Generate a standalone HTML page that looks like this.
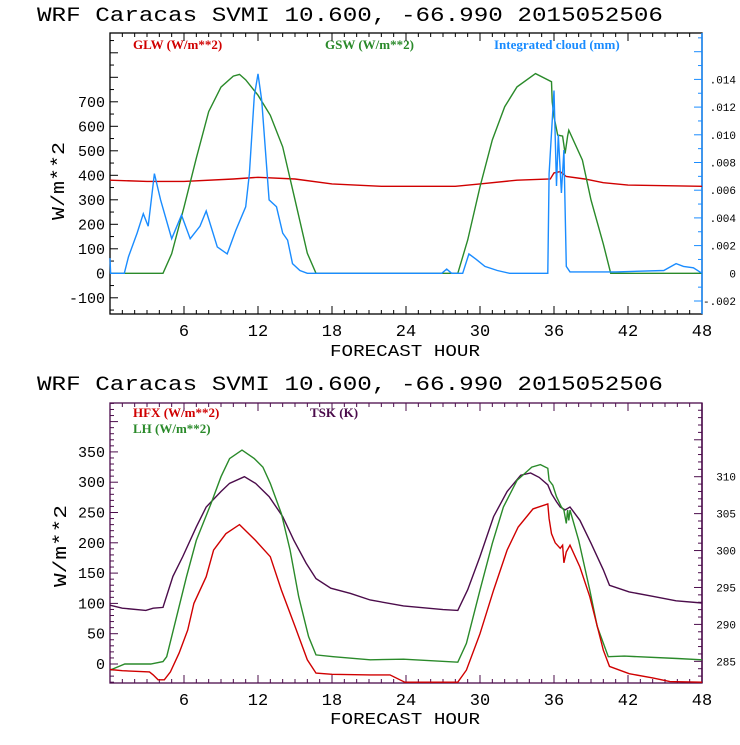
<!DOCTYPE html>
<html><head><meta charset="utf-8"><style>
body{margin:0;background:#fff;width:740px;height:740px;overflow:hidden}
svg text{font-family:"Liberation Mono",monospace}
.lg{font-family:"Liberation Serif",serif;font-weight:bold;font-size:13px}
</style></head><body>
<svg id="c" width="740" height="740" xmlns="http://www.w3.org/2000/svg">
<text x="37" y="21" font-size="20" textLength="626" lengthAdjust="spacingAndGlyphs">WRF  Caracas SVMI  10.600, -66.990  2015052506</text>
<text x="37" y="390" font-size="20" textLength="626" lengthAdjust="spacingAndGlyphs">WRF  Caracas SVMI  10.600, -66.990  2015052506</text>
<text x="330" y="356" font-size="17" textLength="150" lengthAdjust="spacingAndGlyphs">FORECAST HOUR</text>
<text x="330" y="724" font-size="17" textLength="150" lengthAdjust="spacingAndGlyphs">FORECAST HOUR</text>
<text transform="translate(64,220) rotate(-90)" font-size="18" textLength="78" lengthAdjust="spacingAndGlyphs">W/m**2</text>
<text transform="translate(66,587) rotate(-90)" font-size="18" textLength="82" lengthAdjust="spacingAndGlyphs">W/m**2</text>
<text class="lg" x="133" y="49" fill="#d00000">GLW (W/m**2)</text>
<text class="lg" x="325" y="49" fill="#2a8a2a">GSW (W/m**2)</text>
<text class="lg" x="494" y="49" fill="#1a8cff">Integrated cloud (mm)</text>
<text class="lg" x="133" y="417" fill="#d00000">HFX (W/m**2)</text>
<text class="lg" x="133" y="433" fill="#2a8a2a">LH  (W/m**2)</text>
<text class="lg" x="310" y="417" fill="#4b0c4b">TSK (K)</text>
</svg>
<script>
// ---- data ----
const gswHours=[0,4.3,5,6,7,8,9,10,10.5,11,12,13,14,15,16,16.7,28.2,29,30,31,32,33,34.5,35.8,35.85,36.0,36.3,36.7,36.9,37.1,37.2,38.3,39,40,40.6,48];
const gswVals=[0,0,80,270,470,660,760,805,812,790,727,645,516,300,82,0,0,136,353,544,680,761,815,782,700,639,564,560,489,560,584,462,299,120,0,0];
const glwHours=[0,3,6,10,12,15,18,22,24,28,30,33,35.7,36,36.5,37,38.5,40,42,48];
const glwVals=[380,375,375,385,392,385,365,355,355,355,365,380,385,410,415,395,385,370,360,355];
const cloudHours=[0,0.05,1.16,1.5,2.2,2.7,3.1,3.6,4.1,5.0,5.8,6.5,7.3,7.8,8.7,9.5,10.2,11,11.3,11.7,12,12.3,12.9,13.5,14,14.4,14.8,15.4,16,26.9,27.3,27.7,28.6,29.1,29.7,30.4,31.4,32.4,35.5,35.6,36.0,36.2,36.35,36.6,36.8,37.0,37.3,41,44.9,45.9,46.5,47.3,48];
const cloudVals=[0.0011,0,0,0.0012,0.0029,0.0043,0.0034,0.0072,0.0053,0.0025,0.0042,0.0025,0.0034,0.0045,0.0019,0.0014,0.0031,0.0048,0.0072,0.0128,0.0144,0.0125,0.0053,0.0048,0.0029,0.0024,0.0007,0.0002,0,0,0.0003,0,0,0.0014,0.001,0.0005,0.0002,0,0,0.0072,0.0132,0.0063,0.010,0.0058,0.0089,0.0005,0.0001,0.0001,0.0002,0.0007,0.0005,0.0004,0];
const hfxHours=[0,1,3.2,3.5,3.9,4.4,4.9,5.6,6.3,6.8,7.8,8.4,9.4,10.5,11.8,13.0,13.9,15.0,16,16.7,18,21.1,22.7,23.9,28.2,28.9,30,31.1,32.2,33.1,34.3,35.5,35.6,35.8,36.1,36.5,36.7,36.8,37.0,37.3,38.1,38.9,40,40.5,42.1,44,45.4,48];
const hfxVals=[-9,-11,-13,-18,-26,-26,-13,18,56,100,144,188,215,230,204,177,122,62,7,-15,-17,-18,-18,-30,-30,-10,50,122,188,226,256,264,240,215,200,191,196,167,185,196,160,111,23,-4,-16,-23,-29,-30];
const lhHours=[0,1.2,3.3,4.3,4.6,5.4,6.2,7.0,8.2,9.0,9.7,10.7,11.7,12.4,13.0,13.9,14.6,15.3,16.1,16.7,18.1,21.1,23.8,28.2,28.9,30,31,31.9,33,34.2,34.9,35.5,35.6,35.9,36.2,36.6,36.8,37.0,37.1,37.2,37.3,38,38.9,39.5,40.4,41.7,46,48];
const lhVals=[-10,0,0,4,12,78,144,204,265,309,339,353,339,325,298,248,188,111,45,15,12,7,8,3,34,122,199,259,303,325,329,323,303,295,276,259,254,232,254,237,254,204,122,62,12,13,9,7];
const tskHours=[0,1,2.9,3.5,4.3,5.1,5.9,7.0,7.8,9.0,9.7,10.9,11.8,12.9,14,14.9,15.9,16.7,17.9,19.5,21.1,23.8,27,28.2,29,30,31.1,32.2,33.3,34.1,34.8,35.5,35.8,36.2,36.5,36.9,37.3,38.1,39,40,40.5,42.1,44,45.9,48];
const tskVals=[292.6,292.2,291.9,292.2,292.3,296.5,299.2,303.2,305.9,308.0,309.1,310,309.1,307.3,304.6,301.4,298.3,296.2,294.9,294.2,293.3,292.5,292.0,291.9,294.7,299.2,304.6,308.0,310.2,310.5,309.9,308.9,307.7,306.6,305.9,305.5,305.9,304.1,301.0,297.4,295.3,294.4,293.8,293.2,292.9];
const topLeftTicks=[-100,0,100,200,300,400,500,600,700];
const topRightTicks=[-0.002,0,0.002,0.004,0.006,0.008,0.010,0.012,0.014];
const topRightLabels=["-.002","0",".002",".004",".006",".008",".010",".012",".014"];
const botLeftTicks=[0,50,100,150,200,250,300,350];
const botRightTicks=[285,290,295,300,305,310];
const xTicks=[6,12,18,24,30,36,42,48];

const NS="http://www.w3.org/2000/svg";
const svg=document.getElementById('c');
function el(t,a,p){const e=document.createElementNS(NS,t);for(const k in a)e.setAttribute(k,a[k]);(p||svg).appendChild(e);return e;}
const X0=110,X1=702;
const xs=h=>X0+(X1-X0)*h/48;
function line(hours,vals,sy,color,name){
  const pts=hours.map((h,i)=>xs(h).toFixed(1)+','+sy(vals[i]).toFixed(1)).join(' ');
  const p=el('polyline',{points:pts,fill:'none',stroke:color,'stroke-width':1.4});
  
  
}
function panel(o){
  const g=el('g',{});
  
  
  // frame
  el('rect',{x:X0,y:o.top,width:X1-X0,height:o.bot-o.top,fill:'none',stroke:o.frame,'stroke-width':1.3},g);
  el('line',{x1:X1,y1:o.top,x2:X1,y2:o.bot,stroke:o.rcol,'stroke-width':1.5},g);
  // x ticks
  for(let h=1;h<48;h++){const x=xs(h),L=h%6==0?8:4;
    el('line',{x1:x,y1:o.bot,x2:x,y2:o.bot-L,stroke:o.frame},g);
    el('line',{x1:x,y1:o.top,x2:x,y2:o.top+L,stroke:o.frame},g);}
  xTicks.forEach(h=>{const t=el('text',{x:xs(h),y:o.bot+22,'font-size':17,'text-anchor':'middle'},g);t.textContent=h;
    
    });
  // left ticks
  for(let v=o.lmin;v<=o.lmax;v+=o.lminor){const y=o.sy(v);if(y<o.top||y>o.bot)continue;
    const L=(Math.round(v/o.lminor)%o.lmajorEvery==0)?8:4;
    el('line',{x1:X0,y1:y,x2:X0+L,y2:y,stroke:o.frame},g);}
  o.lticks.forEach(v=>{const t=el('text',{x:X0-5,y:o.sy(v)+5,'font-size':15,'text-anchor':'end'},g);t.textContent=v;
    
    });
  // right ticks
  for(let i=0;;i++){const v=o.rmin+i*o.rminor;if(v>o.rmax+1e-9)break;const y=o.sy2(v);if(y<o.top||y>o.bot)continue;
    const L=(Math.round((v-o.rbase)/o.rminor)%o.rmajorEvery==0)?8:4;
    el('line',{x1:X1,y1:y,x2:X1-L,y2:y,stroke:o.rcol},g);}
  o.rticks.forEach((v,i)=>{const t=el('text',{x:X1+34,y:o.sy2(v)+4,'font-size':11,'text-anchor':'end'},g);t.textContent=o.rlabels?o.rlabels[i]:v;
    
    });
}
// top panel
const tsy=v=>273.3-v*0.245;
const tsy2=v=>273.3-v/0.002*27.7;
panel({name:'top-panel',top:33,bot:314,frame:'#000',rcol:'#1a8cff',sy:tsy,sy2:tsy2,lmin:-150,lmax:1000,lminor:50,lmajorEvery:2,lticks:topLeftTicks,
  rmin:-0.003,rmax:0.018,rminor:0.001,rbase:0,rmajorEvery:2,rticks:topRightTicks,rlabels:topRightLabels});
line(glwHours,glwVals,tsy,'#d00000','glw-line');
line(gswHours,gswVals,tsy,'#2a8a2a','gsw-line');
line(cloudHours,cloudVals,tsy2,'#1a8cff','cloud-line');
// bottom panel
const bsy=v=>664-v*0.606;
const bsy2=v=>476.7-(v-310)*7.385;
panel({name:'bottom-panel',top:403,bot:683,frame:'#4b0c4b',rcol:'#4b0c4b',sy:bsy,sy2:bsy2,lmin:-30,lmax:430,lminor:10,lmajorEvery:5,lticks:botLeftTicks,
  rmin:282,rmax:319,rminor:1,rbase:285,rmajorEvery:5,rticks:botRightTicks});
line(tskHours,tskVals,bsy2,'#4b0c4b','tsk-line');
line(lhHours,lhVals,bsy,'#2a8a2a','lh-line');
line(hfxHours,hfxVals,bsy,'#d00000','hfx-line');
</script>
</body></html>
